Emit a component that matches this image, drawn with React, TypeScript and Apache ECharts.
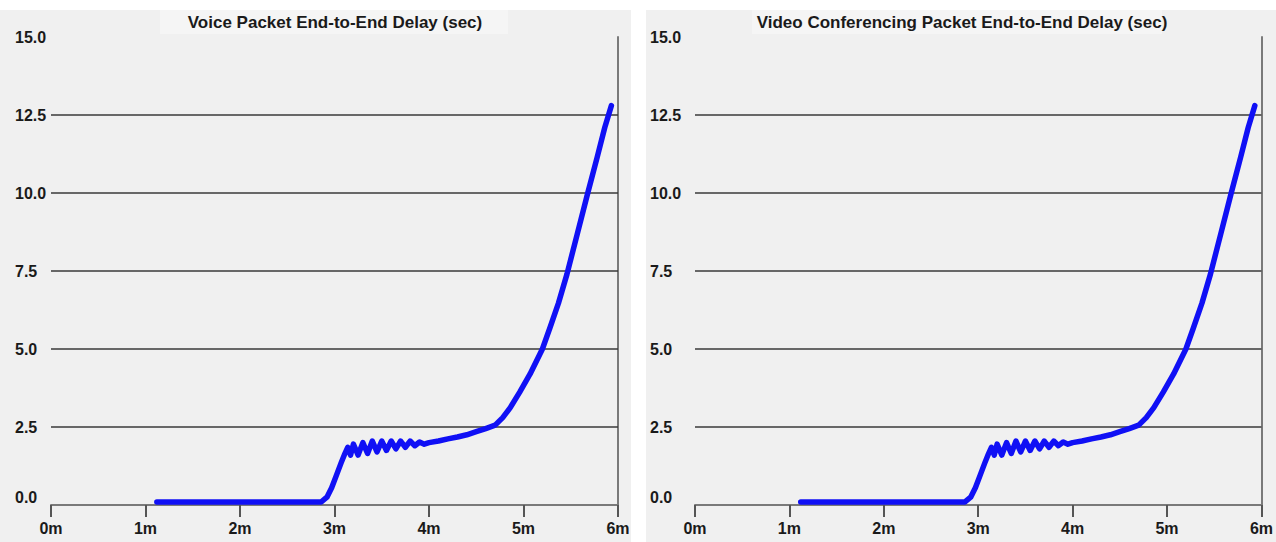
import React, { useEffect, useRef } from "react";
import * as echarts from "echarts";

// Time in minutes
const timeMinutes = [
  1.12, 2.86, 2.92, 2.97, 3.02, 3.07, 3.11, 3.14, 3.17, 3.2, 3.25, 3.3, 3.35, 3.4, 3.45, 3.5,
  3.55, 3.6, 3.65, 3.7, 3.75, 3.8, 3.85, 3.9, 3.95, 4.0, 4.1, 4.2, 4.3, 4.4, 4.5, 4.6, 4.7,
  4.78, 4.86, 4.96, 5.07, 5.2, 5.28, 5.37, 5.46, 5.57, 5.68, 5.78, 5.86, 5.93,
];

// Delay in seconds
const voiceDelay = [
  0.1, 0.1, 0.25, 0.55, 0.95, 1.35, 1.65, 1.85, 1.6, 1.95, 1.6, 2.0, 1.65, 2.05, 1.7, 2.05,
  1.75, 2.05, 1.8, 2.05, 1.85, 2.05, 1.9, 2.02, 1.95, 2.0, 2.05, 2.12, 2.18, 2.25, 2.35, 2.45,
  2.56, 2.8, 3.12, 3.62, 4.2, 5.0, 5.68, 6.47, 7.4, 8.7, 10.0, 11.15, 12.1, 12.8,
];

const videoDelay = [
  0.1, 0.1, 0.25, 0.55, 0.95, 1.35, 1.65, 1.85, 1.6, 1.95, 1.6, 2.0, 1.65, 2.05, 1.7, 2.05,
  1.75, 2.05, 1.8, 2.05, 1.85, 2.05, 1.9, 2.02, 1.95, 2.0, 2.05, 2.12, 2.18, 2.25, 2.35, 2.45,
  2.56, 2.8, 3.12, 3.62, 4.2, 5.0, 5.68, 6.47, 7.4, 8.7, 10.0, 11.15, 12.1, 12.8,
];

const titles = [
  "Voice Packet End-to-End Delay (sec)",
  "Video Conferencing Packet End-to-End Delay (sec)",
];

const gridLineValues = [2.5, 5.0, 7.5, 10.0, 12.5];

const xMin = 0;
const xMax = 6;
const xInterval = 1;
const yMin = 0;
const yMax = 15;
const yInterval = 2.5;

const FONT = "'Liberation Sans', Arial, sans-serif";

export default function App() {
  const ref = useRef<HTMLDivElement>(null);

  useEffect(() => {
    document.body.style.margin = "0";
    if (!ref.current) return;
    const chart = echarts.init(ref.current, undefined, { renderer: "svg" });

    const grids = [
      { left: 51, right: 658, top: 37, bottom: 37 },
      { left: 695, right: 14, top: 37, bottom: 37 },
    ];

    const xAxis = grids.map((_, i) => ({
      type: "value",
      gridIndex: i,
      min: xMin,
      max: xMax,
      interval: xInterval,
      axisLine: { show: true, lineStyle: { color: "#7a7a7a", width: 2 } },
      axisTick: { show: true, length: 12, lineStyle: { color: "#555", width: 2 } },
      axisLabel: {
        formatter: (v: number) => `${v}m`,
        color: "#1a1a1a",
        fontFamily: FONT,
        fontWeight: "bold",
        fontSize: 16,
        margin: 15,
      },
      splitLine: { show: false },
    }));

    const yAxis: any[] = [];
    grids.forEach((_, i) => {
      yAxis.push({
        type: "value",
        gridIndex: i,
        position: "left",
        min: yMin,
        max: yMax,
        interval: yInterval,
        axisLine: { show: false },
        axisTick: { show: false },
        axisLabel: {
          formatter: (v: number) => v.toFixed(1),
          color: "#1a1a1a",
          fontFamily: FONT,
          fontWeight: "bold",
          fontSize: 16,
          align: "left",
          margin: i === 0 ? 36 : 45,
          verticalAlignMinLabel: "bottom",
        },
        splitLine: { show: false },
      });
      yAxis.push({
        type: "value",
        gridIndex: i,
        position: "right",
        min: yMin,
        max: yMax,
        interval: yInterval,
        axisLine: { show: true, lineStyle: { color: "#7a7a7a", width: 2 } },
        axisTick: { show: false },
        axisLabel: { show: false },
        splitLine: { show: false },
      });
    });

    const seriesData = [voiceDelay, videoDelay];

    chart.setOption({
      animation: false,
      backgroundColor: "#ffffff",
      graphic: [
        { type: "rect", z: -10, shape: { x: 0, y: 10, width: 631, height: 532 }, style: { fill: "#f0f0f0" } },
        { type: "rect", z: -10, shape: { x: 646, y: 10, width: 630, height: 532 }, style: { fill: "#f0f0f0" } },
        { type: "rect", z: -9, shape: { x: 160, y: 10, width: 348, height: 24 }, style: { fill: "#f5f5f5" } },
        { type: "rect", z: -9, shape: { x: 752, y: 10, width: 410, height: 24 }, style: { fill: "#f5f5f5" } },
      ],
      title: [
        {
          text: titles[0],
          left: 330,
          top: 9,
          textAlign: "center",
          textStyle: { fontFamily: FONT, fontWeight: "bold", fontSize: 17, color: "#1a1a1a" },
        },
        {
          text: titles[1],
          left: 957,
          top: 9,
          textAlign: "center",
          textStyle: { fontFamily: FONT, fontWeight: "bold", fontSize: 17, color: "#1a1a1a" },
        },
      ],
      grid: grids,
      xAxis,
      yAxis,
      series: seriesData.map((vals, i) => ({
        type: "line",
        xAxisIndex: i,
        yAxisIndex: i * 2,
        data: timeMinutes.map((t, k) => [t, vals[k]]),
        showSymbol: false,
        lineStyle: { color: "#1010f5", width: 5.5, cap: "round", join: "round" },
        clip: false,
        z: 3,
        markLine: {
          silent: true,
          symbol: "none",
          label: { show: false },
          lineStyle: { color: "#3a3a3a", width: 1.6, type: "solid" },
          data: gridLineValues.map((v) => ({ yAxis: v })),
          z: 1,
        },
      })),
    });

    return () => {
      chart.dispose();
    };
  }, []);

  return <div ref={ref} style={{ width: 1276, height: 542 }} />;
}
